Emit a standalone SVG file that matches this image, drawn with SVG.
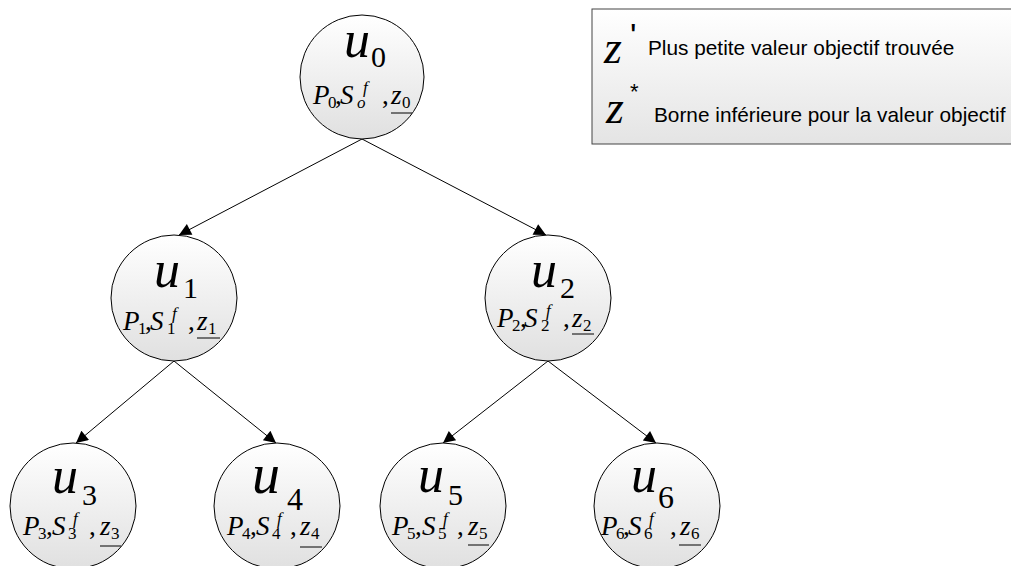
<svg xmlns="http://www.w3.org/2000/svg" width="1011" height="566" viewBox="0 0 1011 566">
<defs>
<linearGradient id="g" x1="0" y1="0" x2="0" y2="1"><stop offset="0" stop-color="#ffffff"/><stop offset="1" stop-color="#e0e0e0"/></linearGradient>
<linearGradient id="lg" x1="0" y1="0" x2="0" y2="1"><stop offset="0" stop-color="#ffffff"/><stop offset="1" stop-color="#e4e4e4"/></linearGradient>
<marker id="ah" viewBox="0 0 10 10" refX="10" refY="5" markerWidth="14" markerHeight="12" markerUnits="userSpaceOnUse" orient="auto"><path d="M0,0 L10,5 L0,10 z" fill="#000"/></marker>
</defs>
<style>
.n{fill:url(#g);stroke:#000;stroke-width:1}
.u{font-family:"Liberation Serif",serif;font-style:italic;font-size:52px}
.us{font-family:"Liberation Serif",serif;font-size:30px}
.l{font-family:"Liberation Serif",serif;font-size:27px}
.i{font-style:italic}
.s{font-size:17px}
.ul{stroke:#000;stroke-width:1}
.c{stroke:#000;stroke-width:1;fill:none;marker-end:url(#ah)}
.t{font-family:"Liberation Sans",Arial,sans-serif;font-size:20.8px}
.lz{font-family:"Liberation Serif",serif;font-style:italic;font-size:46px}
</style>
<rect width="1011" height="566" fill="#fff"/>
<g id="legend">
<rect x="592" y="9" width="430" height="135" fill="url(#lg)" stroke="#444" stroke-width="1"/>
<text x="604" y="63" class="lz">z</text>
<text x="630" y="47" style="font-family:'Liberation Sans',sans-serif;font-size:34px">'</text>
<text x="648" y="55" class="t">Plus petite valeur objectif trouvée</text>
<text x="630" y="99" style="font-family:'Liberation Sans',sans-serif;font-size:22px">*</text>
<text x="606" y="123" class="lz">z</text>
<text x="654" y="122" class="t">Borne inférieure pour la valeur objectif</text>
</g>
<g id="connectors">
<line x1="362" y1="139" x2="179" y2="235" class="c"/>
<line x1="362" y1="139" x2="546" y2="235" class="c"/>
<line x1="174" y1="361" x2="76" y2="443" class="c"/>
<line x1="174" y1="361" x2="276" y2="443" class="c"/>
<line x1="548" y1="361" x2="443" y2="443" class="c"/>
<line x1="548" y1="361" x2="656" y2="443" class="c"/>
</g>
<g id="u0">
<circle cx="362" cy="77" r="62" class="n"/>
<text x="344" y="57" class="u">u</text><text x="371" y="67" class="us">0</text>
<text class="l"><tspan class="i" x="313" y="104">P</tspan><tspan class="s" x="328" y="108">0</tspan><tspan x="335" y="104">,</tspan><tspan class="i" x="340" y="104">S</tspan><tspan class="s i" x="363" y="93">f</tspan><tspan class="s i" x="357" y="108">o</tspan><tspan x="382" y="104">,</tspan><tspan class="i" x="391" y="104">z</tspan><tspan class="s" x="402" y="108">0</tspan></text>
<line x1="391" y1="113" x2="412" y2="113" class="ul"/>
</g>
<g id="u1">
<circle cx="174" cy="298" r="63" class="n"/>
<text x="154" y="287" class="u">u</text><text x="183" y="298" class="us">1</text>
<text class="l"><tspan class="i" x="123" y="330">P</tspan><tspan class="s" x="138" y="334">1</tspan><tspan x="145" y="330">,</tspan><tspan class="i" x="150" y="330">S</tspan><tspan class="s i" x="172" y="319">f</tspan><tspan class="s" x="167" y="334">1</tspan><tspan x="188" y="330">,</tspan><tspan class="i" x="197" y="330">z</tspan><tspan class="s" x="208" y="334">1</tspan></text>
<line x1="197" y1="338" x2="220" y2="338" class="ul"/>
</g>
<g id="u2">
<circle cx="548" cy="298" r="63" class="n"/>
<text x="531" y="287" class="u">u</text><text x="560" y="298" class="us">2</text>
<text class="l"><tspan class="i" x="497" y="327">P</tspan><tspan class="s" x="512" y="331">2</tspan><tspan x="520" y="327">,</tspan><tspan class="i" x="524" y="327">S</tspan><tspan class="s i" x="546" y="316">f</tspan><tspan class="s" x="541" y="331">2</tspan><tspan x="563" y="327">,</tspan><tspan class="i" x="572" y="327">z</tspan><tspan class="s" x="583" y="331">2</tspan></text>
<line x1="572" y1="334" x2="594" y2="334" class="ul"/>
</g>
<g id="u3">
<circle cx="73" cy="506" r="63" class="n"/>
<text x="52" y="493" class="u">u</text><text x="82" y="505" class="us">3</text>
<text class="l"><tspan class="i" x="23" y="535">P</tspan><tspan class="s" x="38" y="539">3</tspan><tspan x="46" y="535">,</tspan><tspan class="i" x="52" y="535">S</tspan><tspan class="s i" x="73" y="524">f</tspan><tspan class="s" x="68" y="539">3</tspan><tspan x="89" y="535">,</tspan><tspan class="i" x="100" y="535">z</tspan><tspan class="s" x="111" y="539">3</tspan></text>
<line x1="100" y1="546" x2="121" y2="546" class="ul"/>
</g>
<g id="u4">
<circle cx="277" cy="506" r="63" class="n"/>
<text x="252" y="493" class="u" style="font-size:56px">u</text><text x="287" y="510" class="us" style="font-size:32px">4</text>
<text class="l"><tspan class="i" x="227" y="535">P</tspan><tspan class="s" x="242" y="539">4</tspan><tspan x="250" y="535">,</tspan><tspan class="i" x="256" y="535">S</tspan><tspan class="s i" x="277" y="524">f</tspan><tspan class="s" x="272" y="539">4</tspan><tspan x="290" y="535">,</tspan><tspan class="i" x="300" y="535">z</tspan><tspan class="s" x="311" y="539">4</tspan></text>
<line x1="300" y1="547" x2="322" y2="547" class="ul"/>
</g>
<g id="u5">
<circle cx="443" cy="506" r="63" class="n"/>
<text x="418" y="492" class="u">u</text><text x="448" y="505" class="us">5</text>
<text class="l"><tspan class="i" x="392" y="535">P</tspan><tspan class="s" x="407" y="539">5</tspan><tspan x="415" y="535">,</tspan><tspan class="i" x="422" y="535">S</tspan><tspan class="s i" x="443" y="524">f</tspan><tspan class="s" x="438" y="539">5</tspan><tspan x="457" y="535">,</tspan><tspan class="i" x="468" y="535">z</tspan><tspan class="s" x="479" y="539">5</tspan></text>
<line x1="468" y1="545" x2="489" y2="545" class="ul"/>
</g>
<g id="u6">
<circle cx="657" cy="506" r="63" class="n"/>
<text x="631" y="492" class="u">u</text><text x="658" y="508" class="us" style="font-size:32px">6</text>
<text class="l"><tspan class="i" x="601" y="535">P</tspan><tspan class="s" x="616" y="539">6</tspan><tspan x="623" y="535">,</tspan><tspan class="i" x="628" y="535">S</tspan><tspan class="s i" x="649" y="524">f</tspan><tspan class="s" x="644" y="539">6</tspan><tspan x="670" y="535">,</tspan><tspan class="i" x="680" y="535">z</tspan><tspan class="s" x="691" y="539">6</tspan></text>
<line x1="679" y1="545" x2="701" y2="545" class="ul"/>
</g>
</svg>
